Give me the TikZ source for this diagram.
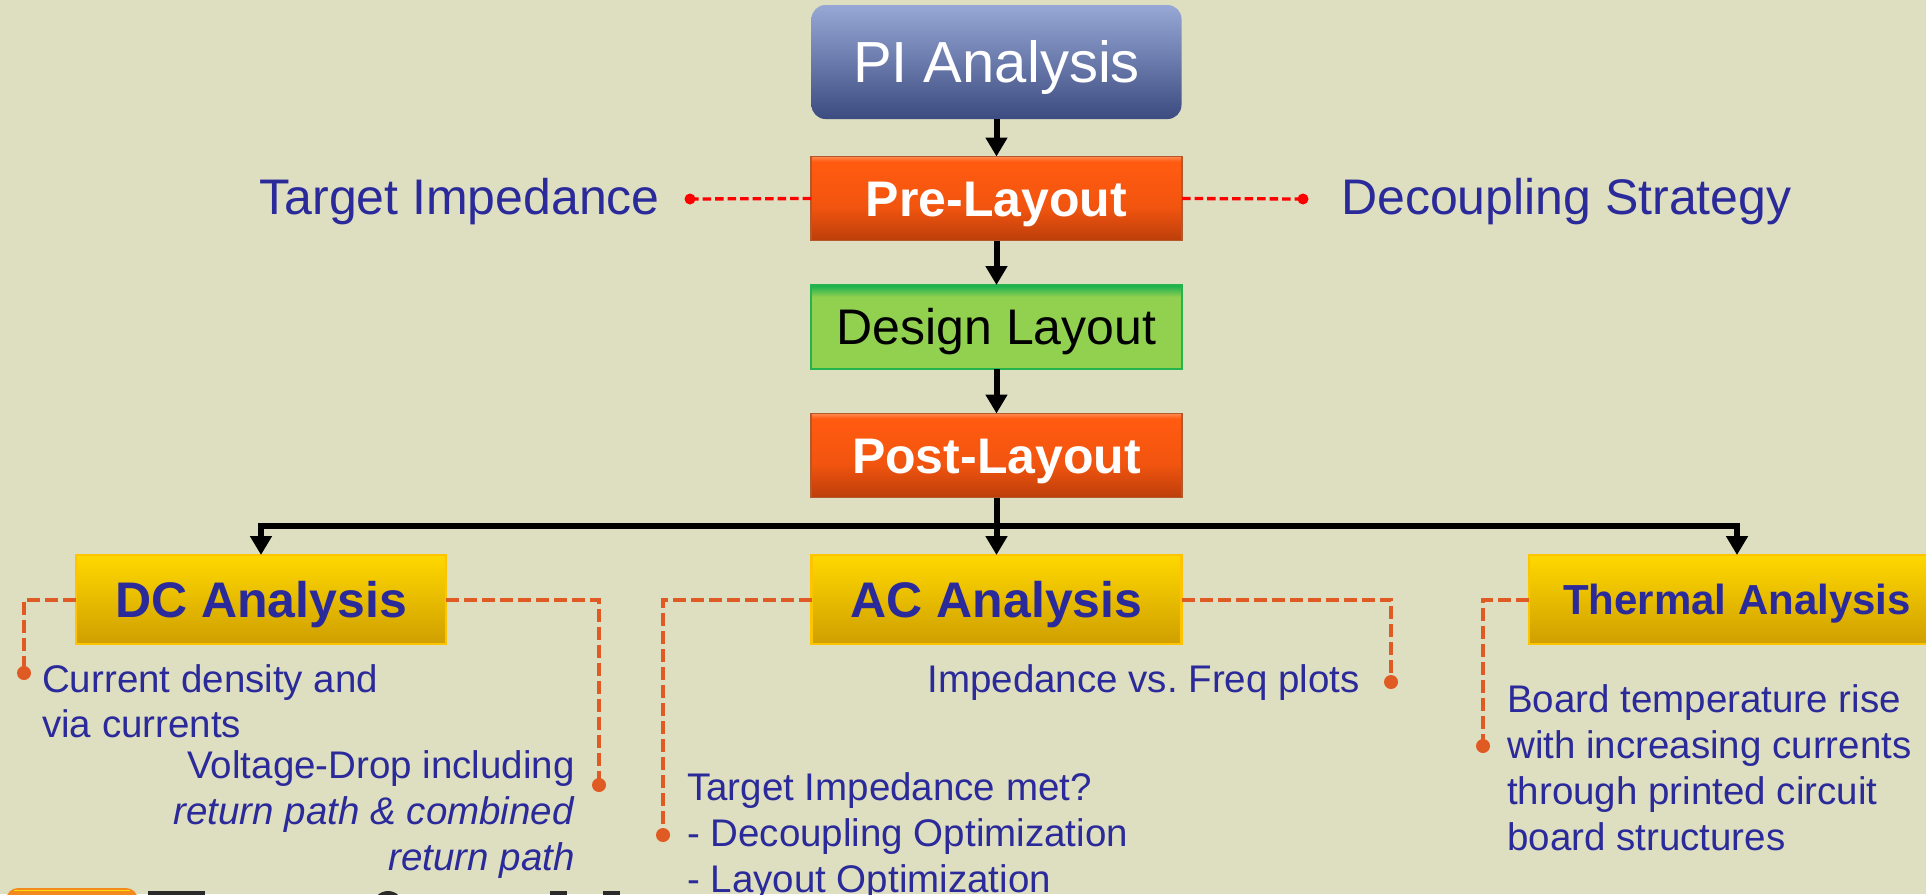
\documentclass[tikz,border=0pt]{standalone}
\usepackage{fontspec}
\setmainfont{Liberation Sans}
\usetikzlibrary{arrows.meta}

\definecolor{bg}{HTML}{DEDEC0}
\definecolor{txtblue}{HTML}{2B2A9A}
\definecolor{piT}{HTML}{97A8D6}
\definecolor{piB}{HTML}{3C4B80}
\definecolor{orT}{HTML}{FF8A50}
\definecolor{orM}{HTML}{FF5A10}
\definecolor{orB}{HTML}{BC3E0A}
\definecolor{orEdge}{HTML}{B4582E}
\definecolor{grTop}{HTML}{12AE4F}
\definecolor{grM}{HTML}{92D050}
\definecolor{grEdge}{HTML}{24B34C}
\definecolor{yeT}{HTML}{FFD800}
\definecolor{yeB}{HTML}{CF9F00}
\definecolor{yeEdge}{HTML}{FFC400}
\definecolor{dashOr}{HTML}{E05A24}
\definecolor{dashRed}{HTML}{FF0000}
\definecolor{logoOr}{HTML}{F28A1E}
\definecolor{logoBk}{HTML}{2A2A2A}

% box shadings (the path covers 25bp..75bp)
\pgfdeclareverticalshading{pishade}{100bp}{color(0bp)=(piB); color(25bp)=(piB); color(75bp)=(piT); color(100bp)=(piT)}
\pgfdeclareverticalshading{orshade}{100bp}{color(0bp)=(orB); color(25bp)=(orB); color(45bp)=(orM!80!orB); color(69bp)=(orM); color(72bp)=(orM); color(75bp)=(orT); color(100bp)=(orT)}
\pgfdeclareverticalshading{grshade}{100bp}{color(0bp)=(grM); color(25bp)=(grM); color(68bp)=(grM); color(75bp)=(grTop); color(100bp)=(grTop)}
\pgfdeclareverticalshading{yeshade}{100bp}{color(0bp)=(yeB); color(25bp)=(yeB); color(75bp)=(yeT); color(100bp)=(yeT)}

\newcommand{\fs}[2]{\fontsize{#1}{#2}\selectfont}

\begin{document}
\begin{tikzpicture}[x=1pt,y=-1pt,
  box/.style={inner sep=0pt, outer sep=0pt, text depth=0pt},
  pibox/.style={box, shading=pishade, rounded corners=14pt,
    minimum width=370pt, minimum height=114pt, text=white,
    font=\fs{58}{64}, text height=41.5pt},
  orbox/.style={box, shading=orshade, draw=orEdge, line width=1.2pt,
    minimum width=371pt, minimum height=84pt, text=white,
    font=\bfseries\fs{50}{56}, text height=35.8pt},
  grbox/.style={box, shading=grshade, draw=grEdge, line width=2pt,
    minimum width=371pt, minimum height=84pt, text=black,
    font=\fs{50}{56}, text height=35.8pt},
  yebox/.style={box, shading=yeshade, draw=yeEdge, line width=2.5pt,
    minimum width=370pt, minimum height=89pt, text=txtblue,
    font=\bfseries\fs{50}{56}, text height=35.8pt},
  flow/.style={draw=black, line width=6pt,
    -{Triangle[width=21pt,length=19pt]}},
  reddash/.style={draw=dashRed, line width=3.3pt, dash pattern=on 8.5pt off 4pt},
  reddot/.style={circle, fill=dashRed, inner sep=0pt, minimum size=11pt},
  ordash/.style={draw=dashOr, line width=4pt, dash pattern=on 13pt off 5pt},
  ordot/.style={circle, fill=dashOr, inner sep=0pt, minimum size=14pt},
  bigtxt/.style={inner sep=0pt, text=txtblue, font=\fs{50}{56}},
  note/.style={inner sep=0pt, text=txtblue, font=\fs{38.5}{46}}
]
\useasboundingbox (0,0) rectangle (1926,894);
\fill[bg] (0,0) rectangle (1926,894);
\clip (0,0) rectangle (1926,894);

% flow boxes
\node[pibox] (pi)     at (996.5,62)    {PI Analysis};
\node[orbox] (pre)    at (996.5,198.5) {Pre-Layout};
\node[grbox] (design) at (996.5,327)   {Design Layout};
\node[orbox] (post)   at (996.5,455.5) {Post-Layout};
\node[yebox] (dc)     at (261,599.5)   {DC Analysis};
\node[yebox] (ac)     at (996.5,599.5) {AC Analysis};
\node[yebox, minimum width=416pt, font=\bfseries\fs{42}{48}, text height=30pt] (th) at (1737,599.5) {Thermal Analysis};

% main flow
\draw[flow] (pi) -- (pre);
\draw[flow] (pre) -- (design);
\draw[flow] (design) -- (post);
\coordinate (bus) at (996.5,526);
\draw[flow] (post.south) -- (ac.north);
\draw[flow] (bus) -| (dc.north);
\draw[flow] (bus) -| (th.north);

% pre-layout targets
\node[reddot] (tiDot) at (690,199) {};
\node[reddot] (dsDot) at (1303,199) {};
\draw[reddash] (pre.west) -- (tiDot.center);
\draw[reddash] (pre.east) -- (dsDot.center);
\node[bigtxt, anchor=base east] (ti) at (660,214) {Target Impedance};
\node[bigtxt, anchor=base west] (ds) at (1341,214) {Decoupling Strategy};

% DC analysis notes
\node[ordot] (dcL) at (24,673) {};
\node[ordot] (dcR) at (599,785) {};
\draw[ordash] (dc.west) -| (dcL.center);
\draw[ordash] (dc.east) -| (dcR.center);
\node[note, font=\fs{38.5}{45}, anchor=north west, align=left] (dcA) at (42,664)
  {Current density and\\via currents};
\node[note, anchor=north east, align=right] (dcB) at (575,750)
  {Voltage-Drop including\\\textit{return path \& combined}\\\textit{return path}};

% AC analysis notes
\node[ordot] (acL) at (663,835) {};
\node[ordot] (acR) at (1391,682) {};
\draw[ordash] (ac.west) -| (acL.center);
\draw[ordash] (ac.east) -| (acR.center);
\node[note, anchor=base east] (acA) at (1360,692) {Impedance vs.\ Freq plots};
\node[note, anchor=north west, align=left] (acB) at (687,772)
  {Target Impedance met?\\- Decoupling Optimization\\- Layout Optimization};

% thermal analysis notes
\node[ordot] (thL) at (1483,746) {};
\draw[ordash] (th.west) -| (thL.center);
\node[note, anchor=north west, align=left] (thA) at (1507,684)
  {Board temperature rise\\with increasing currents\\through printed circuit\\board structures};

% logo edge at the lower left
\fill[logoOr, rounded corners=12pt] (6,888) rectangle (138,930);
\fill[yellow!80!orange] (14,889.5) -- (130,889.5) -- (130,891) -- (14,891) -- cycle;
\fill[logoBk] (148,891) rectangle (205,900);
\fill[logoBk] (388,906) circle (15);
\fill[logoBk] (550,891) rectangle (567,900);
\fill[logoBk] (603,891) rectangle (620,900);
\end{tikzpicture}
\end{document}
